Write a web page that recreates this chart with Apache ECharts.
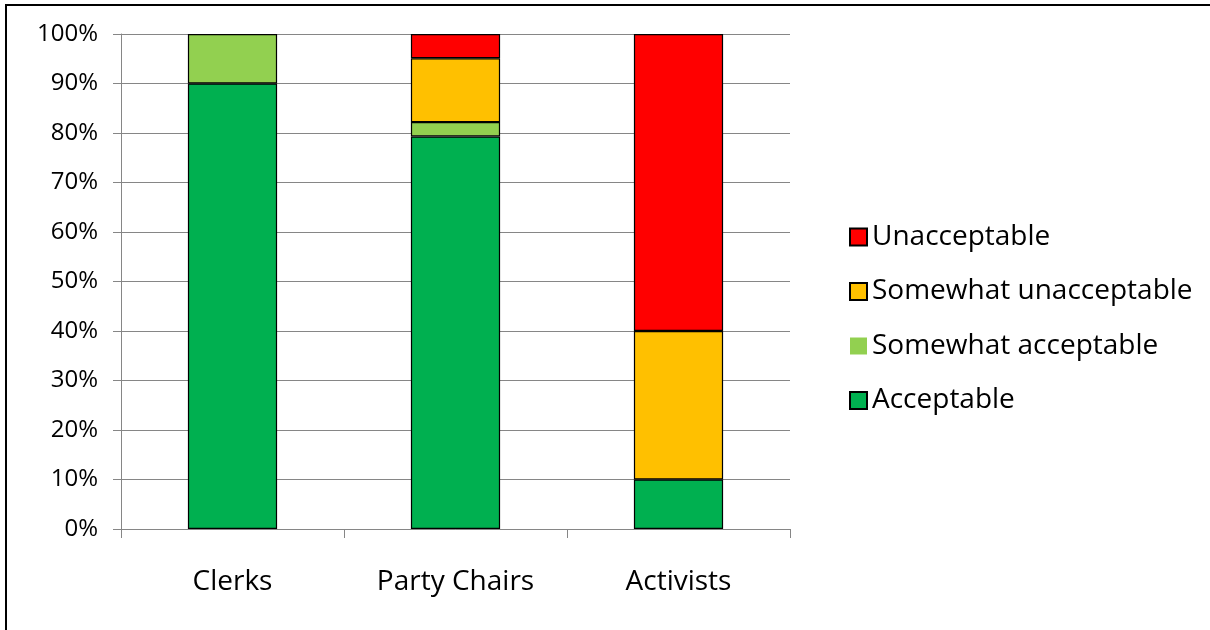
<!DOCTYPE html>
<html><head><meta charset="utf-8">
<script src="https://cdn.jsdelivr.net/npm/echarts@6/dist/echarts.min.js"></script>
<style>html,body{margin:0;padding:0;background:#fff}#c{width:1210px;height:630px}</style>
</head><body><div id="c"></div>
<script>
const categories = ['Clerks', 'Party Chairs', 'Activists'];
const acceptable = [90, 79.3, 10];
const somewhatAcceptable = [10, 2.9, '-'];
const somewhatUnacceptable = ['-', 12.9, 30];
const unacceptable = ['-', 4.9, 60];
const font = '"Open Sans", Lato, sans-serif';

const chart = echarts.init(document.getElementById('c'));
function ser(name, data, color) {
  return {
    name, type: 'bar', stack: 's', data, barWidth: '40%',
    itemStyle: { color, borderColor: '#000', borderWidth: 1.2 },
    emphasis: { disabled: true }
  };
}
chart.setOption({
  animation: false,
  graphic: [{ type: 'rect', shape: { x: 6, y: 5, width: 1260, height: 700 }, style: { fill: 'none', stroke: '#000', lineWidth: 2 }, silent: true, z: 100 }],
  grid: { left: 121, right: 420, top: 34, bottom: 101, containLabel: false },
  xAxis: {
    type: 'category', data: categories,
    axisLine: { lineStyle: { color: '#868686', width: 1 } },
    axisTick: { show: true, length: 9, lineStyle: { color: '#868686' } },
    axisLabel: { color: '#000', fontSize: 28, fontFamily: font, margin: 39 }
  },
  yAxis: {
    type: 'value', min: 0, max: 100, interval: 10,
    axisLine: { show: true, lineStyle: { color: '#868686' } },
    axisTick: { show: true, length: 8, lineStyle: { color: '#868686' } },
    axisLabel: { color: '#000', fontSize: 24, fontFamily: font, margin: 23, formatter: '{value}%' },
    splitLine: { lineStyle: { color: '#868686', width: 1 } }
  },
  legend: {
    orient: 'vertical', left: 844, top: 218, itemGap: 26.5, itemWidth: 17, itemHeight: 17,
    icon: 'rect', selectedMode: false,
    textStyle: { fontSize: 28, fontFamily: font, color: '#000', padding: [0, 0, 0, 0] },
    data: [
      { name: 'Unacceptable' },
      { name: 'Somewhat unacceptable' },
      { name: 'Somewhat acceptable', itemStyle: { borderWidth: 0 } },
      { name: 'Acceptable' }
    ]
  },
  series: [
    ser('Acceptable', acceptable, '#00b050'),
    ser('Somewhat acceptable', somewhatAcceptable, '#92d050'),
    ser('Somewhat unacceptable', somewhatUnacceptable, '#ffc000'),
    ser('Unacceptable', unacceptable, '#ff0000')
  ]
});
</script></body></html>
